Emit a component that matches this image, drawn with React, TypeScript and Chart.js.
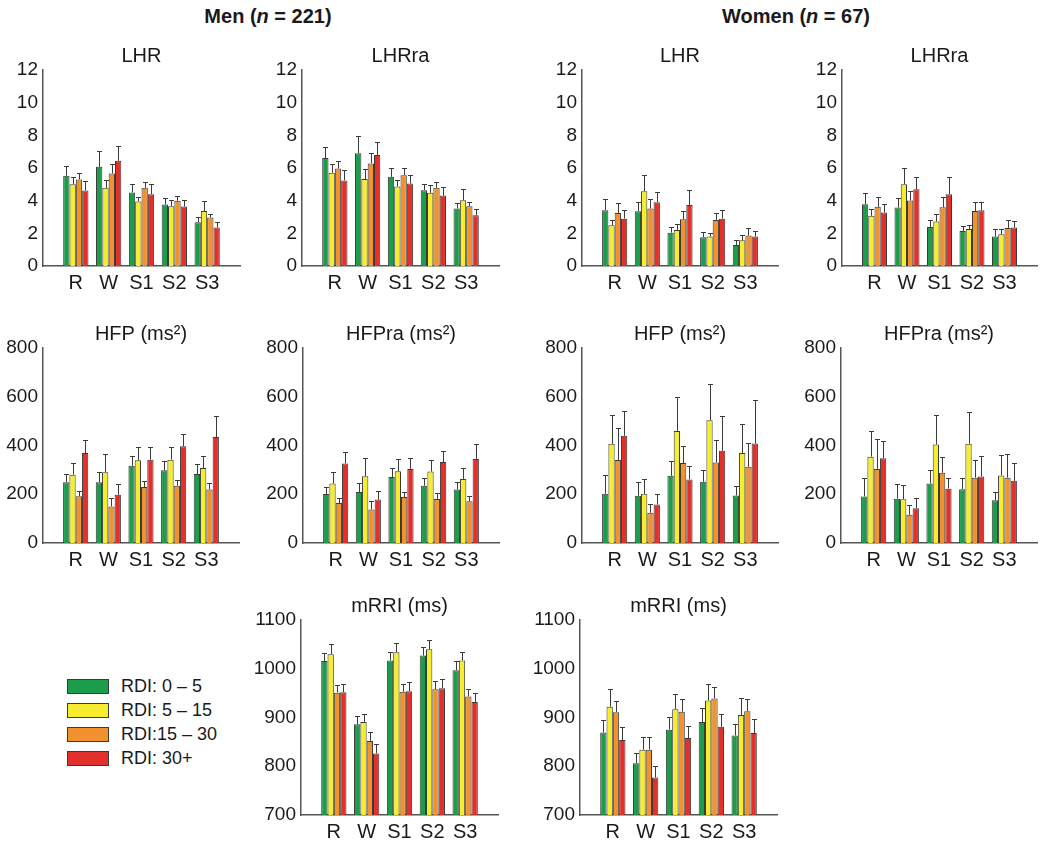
import React, { useEffect, useRef } from 'react';
import { Chart, registerables } from 'chart.js';

Chart.register(...registerables);

const FONT = '"Liberation Sans", Arial, Helvetica, sans-serif';

// ---- categories & groups ----
const phases = ['R', 'W', 'S1', 'S2', 'S3'];
const groupNames = ['RDI: 0 – 5', 'RDI: 5 – 15', 'RDI:15 – 30', 'RDI: 30+'];
const groupColors = ['#1b9d4b', '#f6ed2e', '#f2922f', '#e4302b'];

// ---- axis ranges [min, max, step] ----
const lhrAxis = [0, 12, 2];
const hfpAxis = [0, 800, 200];
const rriAxis = [700, 1100, 100];

// ---- Men (n = 221) : rows = RDI groups (0–5, 5–15, 15–30, 30+), cols = R, W, S1, S2, S3 ----
const menLHRMean = [
  [5.52, 6.07, 4.5, 3.76, 2.68],
  [5.01, 4.79, 3.95, 3.66, 3.37],
  [5.3, 5.66, 4.79, 3.99, 2.97],
  [4.62, 6.44, 4.4, 3.64, 2.35],
];
const menLHRErr = [
  [0.61, 0.99, 0.49, 0.41, 0.33],
  [0.45, 0.47, 0.3, 0.37, 0.62],
  [0.41, 0.56, 0.38, 0.28, 0.24],
  [0.57, 0.92, 0.59, 0.39, 0.33],
];
const menLHRraMean = [
  [6.61, 6.91, 5.46, 4.64, 3.52],
  [5.71, 5.32, 4.87, 4.48, 4.03],
  [5.97, 6.28, 5.56, 4.79, 3.66],
  [5.24, 6.79, 5.05, 4.31, 3.11],
];
const menLHRraErr = [
  [0.67, 1.04, 0.55, 0.41, 0.35],
  [0.53, 0.59, 0.39, 0.47, 0.67],
  [0.47, 0.61, 0.43, 0.36, 0.27],
  [0.63, 0.8, 0.55, 0.5, 0.41],
];
const menHFPMean = [
  [249, 249, 317, 298, 283],
  [280, 290, 339, 342, 308],
  [192, 150, 230, 235, 219],
  [369, 198, 342, 397, 435],
];
const menHFPErr = [
  [33, 41, 39, 37, 40],
  [48, 77, 54, 51, 48],
  [21, 33, 23, 25, 29],
  [55, 44, 51, 50, 85],
];
const menHFPraMean = [
  [201, 209, 271, 235, 219],
  [244, 274, 294, 293, 263],
  [164, 137, 189, 181, 171],
  [326, 178, 304, 332, 345],
];
const menHFPraErr = [
  [27, 37, 35, 30, 33],
  [46, 76, 51, 48, 45],
  [19, 34, 20, 23, 21],
  [46, 34, 45, 46, 61],
];
const menRRIMean = [
  [1016, 886, 1017, 1027, 997],
  [1030, 891, 1034, 1040, 1017],
  [951, 852, 953, 958, 943],
  [952, 826, 954, 960, 932],
];
const menRRIErr = [
  [17, 17, 18, 18, 18],
  [21, 17, 19, 19, 18],
  [16, 18, 16, 17, 16],
  [17, 19, 19, 19, 18],
];

// ---- Women (n = 67) ----
const womenLHRMean = [
  [3.42, 3.35, 2.04, 1.76, 1.29],
  [2.49, 4.58, 2.21, 1.8, 1.57],
  [3.25, 3.52, 2.86, 2.82, 1.86],
  [2.9, 3.91, 3.74, 2.9, 1.8],
];
const womenLHRErr = [
  [0.67, 0.58, 0.35, 0.33, 0.28],
  [0.35, 1.02, 0.35, 0.22, 0.35],
  [0.62, 0.59, 0.51, 0.45, 0.45],
  [0.52, 0.63, 0.92, 0.52, 0.35],
];
const womenLHRraMean = [
  [3.78, 3.58, 2.39, 2.15, 1.8],
  [3.07, 5.01, 2.72, 2.27, 1.94],
  [3.62, 4.01, 3.6, 3.37, 2.33],
  [3.27, 4.7, 4.4, 3.42, 2.35],
];
const womenLHRraErr = [
  [0.7, 0.59, 0.41, 0.3, 0.47],
  [0.39, 1.0, 0.49, 0.27, 0.33],
  [0.61, 0.59, 0.61, 0.52, 0.51],
  [0.51, 0.76, 1.06, 0.51, 0.41],
];
const womenHFPMean = [
  [202, 194, 276, 251, 195],
  [407, 202, 460, 504, 369],
  [341, 124, 328, 330, 313],
  [440, 158, 261, 378, 408],
];
const womenHFPErr = [
  [79, 56, 60, 49, 38],
  [120, 61, 138, 150, 118],
  [130, 38, 72, 92, 97],
  [103, 44, 54, 141, 180],
];
const womenHFPraMean = [
  [191, 182, 244, 221, 175],
  [354, 180, 404, 407, 277],
  [304, 116, 288, 268, 268],
  [348, 143, 223, 273, 255],
];
const womenHFPraErr = [
  [74, 60, 54, 47, 33],
  [107, 60, 122, 130, 82],
  [122, 40, 64, 72, 97],
  [71, 40, 43, 83, 74],
];
const womenRRIMean = [
  [869, 806, 875, 891, 863],
  [922, 834, 917, 935, 905],
  [911, 834, 912, 939, 913],
  [854, 777, 858, 881, 868],
];
const womenRRIErr = [
  [26, 22, 26, 29, 24],
  [37, 27, 32, 34, 35],
  [22, 27, 25, 24, 24],
  [26, 24, 25, 26, 28],
];

// ---- panel layout (plot-area boxes in page px) ----
const panels = [
  { key: 'mLHR', title: 'LHR', means: menLHRMean, errs: menLHRErr, axis: lhrAxis, box: [43, 70, 240, 266] },
  { key: 'mLHRra', title: 'LHRra', means: menLHRraMean, errs: menLHRraErr, axis: lhrAxis, box: [302, 70, 499, 266] },
  { key: 'wLHR', title: 'LHR', means: womenLHRMean, errs: womenLHRErr, axis: lhrAxis, box: [582, 70, 778, 266] },
  { key: 'wLHRra', title: 'LHRra', means: womenLHRraMean, errs: womenLHRraErr, axis: lhrAxis, box: [842, 70, 1037, 266] },
  { key: 'mHFP', title: 'HFP (ms²)', means: menHFPMean, errs: menHFPErr, axis: hfpAxis, box: [43, 348, 239, 543] },
  { key: 'mHFPra', title: 'HFPra (ms²)', means: menHFPraMean, errs: menHFPraErr, axis: hfpAxis, box: [303, 348, 499, 543] },
  { key: 'wHFP', title: 'HFP (ms²)', means: womenHFPMean, errs: womenHFPErr, axis: hfpAxis, box: [582, 348, 778, 543] },
  { key: 'wHFPra', title: 'HFPra (ms²)', means: womenHFPraMean, errs: womenHFPraErr, axis: hfpAxis, box: [841, 348, 1037, 543] },
  { key: 'mRRI', title: 'mRRI (ms)', means: menRRIMean, errs: menRRIErr, axis: rriAxis, box: [301, 620, 498, 815] },
  { key: 'wRRI', title: 'mRRI (ms)', means: womenRRIMean, errs: womenRRIErr, axis: rriAxis, box: [580, 620, 777, 815] },
];

const PADL = 56;
const PADT = 44;
const PADR = 6;
const PADB = 34;

const errorBarsPlugin = {
  id: 'errorBars',
  afterDatasetsDraw(chart: any) {
    const ctx = chart.ctx;
    const ys = chart.scales.y;
    ctx.save();
    ctx.strokeStyle = '#3a3a3a';
    ctx.lineWidth = 1;
    chart.data.datasets.forEach((ds: any, di: number) => {
      const meta = chart.getDatasetMeta(di);
      meta.data.forEach((bar: any, i: number) => {
        const v = ds.data[i];
        const e = ds.errors[i];
        if (v == null || e == null) return;
        const x = Math.round(bar.x) + 0.5;
        const y0 = ys.getPixelForValue(v);
        const y1 = Math.round(ys.getPixelForValue(v + e)) + 0.5;
        ctx.beginPath();
        ctx.moveTo(x, y0);
        ctx.lineTo(x, y1);
        ctx.moveTo(x - 2.5, y1);
        ctx.lineTo(x + 2.5, y1);
        ctx.stroke();
      });
    });
    ctx.restore();
  },
};

const panelTitlePlugin = {
  id: 'panelTitle',
  afterDraw(chart: any, _args: any, opts: any) {
    const { ctx, chartArea } = chart;
    ctx.save();
    ctx.fillStyle = '#1a1a1a';
    ctx.font = `20px ${FONT}`;
    ctx.textAlign = 'center';
    ctx.textBaseline = 'middle';
    ctx.fillText(opts.text, (chartArea.left + chartArea.right) / 2, chartArea.top - 14);
    ctx.restore();
  },
};

function Panel({ p }: { p: any }) {
  const ref = useRef<HTMLCanvasElement>(null);
  const [l, t, r, b] = p.box;
  const W = r - l + PADL + PADR;
  const H = b - t + PADT + PADB;
  useEffect(() => {
    if (!ref.current) return;
    const chart = new Chart(ref.current, {
      type: 'bar',
      data: {
        labels: ['', ...phases, ''],
        datasets: p.means.map((m: number[], i: number) => ({
          label: groupNames[i],
          data: [null, ...m, null],
          errors: [null, ...p.errs[i], null],
          backgroundColor: groupColors[i],
          borderColor: '#3a3a3a',
          borderWidth: 1,
          categoryPercentage: 0.77,
          barPercentage: 1,
        })),
      } as any,
      options: {
        responsive: false,
        animation: false,
        devicePixelRatio: 1,
        layout: { padding: { left: 0, top: PADT, right: PADR, bottom: 0 } },
        plugins: {
          legend: { display: false },
          tooltip: { enabled: false },
          panelTitle: { text: p.title },
        } as any,
        scales: {
          x: {
            type: 'category',
            offset: false,
            grid: { display: false, drawTicks: false },
            border: { display: true, color: '#555', width: 1.5 },
            ticks: {
              font: { family: FONT, size: 20 },
              color: '#1a1a1a',
              padding: 5,
              autoSkip: false,
              maxRotation: 0,
            },
            afterFit: (s: any) => {
              s.height = PADB;
            },
          },
          y: {
            min: p.axis[0],
            max: p.axis[1],
            grid: { display: false, drawTicks: false },
            border: { display: true, color: '#555', width: 1.5 },
            ticks: {
              stepSize: p.axis[2],
              font: { family: FONT, size: 19 },
              color: '#1a1a1a',
              padding: 5,
              callback: (v: any) => String(v),
            },
            afterFit: (s: any) => {
              s.width = PADL;
            },
          },
        },
      } as any,
      plugins: [errorBarsPlugin, panelTitlePlugin],
    });
    return () => chart.destroy();
  }, []);
  return (
    <canvas
      ref={ref}
      width={W}
      height={H}
      style={{ position: 'absolute', left: l - PADL, top: t - PADT, width: W, height: H }}
    />
  );
}

export default function App() {
  return (
    <div
      style={{
        position: 'absolute',
        left: 0,
        top: 0,
        width: 1050,
        height: 849,
        background: '#fff',
        fontFamily: FONT,
        color: '#1a1a1a',
      }}
    >
      <div
        style={{
          position: 'absolute',
          left: 118,
          top: 4,
          width: 300,
          textAlign: 'center',
          fontWeight: 'bold',
          fontSize: 20,
          lineHeight: '24px',
        }}
      >
        Men (<i>n</i> = 221)
      </div>
      <div
        style={{
          position: 'absolute',
          left: 646,
          top: 4,
          width: 300,
          textAlign: 'center',
          fontWeight: 'bold',
          fontSize: 20,
          lineHeight: '24px',
        }}
      >
        Women (<i>n</i> = 67)
      </div>
      {panels.map((p) => (
        <Panel key={p.key} p={p} />
      ))}
      <div style={{ position: 'absolute', left: 67, top: 674 }}>
        {groupNames.map((g, i) => (
          <div key={g} style={{ display: 'flex', alignItems: 'center', height: 24 }}>
            <div
              style={{
                width: 42,
                height: 15,
                background: groupColors[i],
                border: '1px solid #3a3a3a',
                boxSizing: 'border-box',
                marginRight: 12,
              }}
            />
            <span style={{ fontSize: 18, lineHeight: '24px' }}>{g}</span>
          </div>
        ))}
      </div>
    </div>
  );
}
